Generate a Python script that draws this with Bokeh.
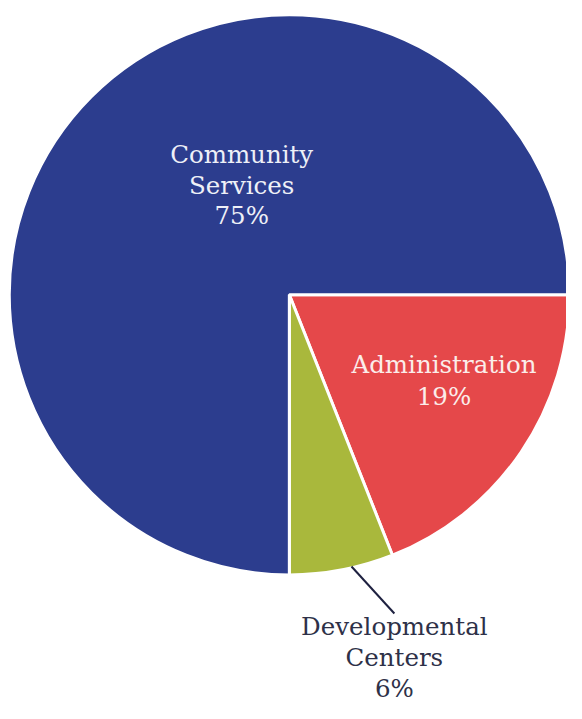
import numpy as np
from bokeh.plotting import figure
from bokeh.models import Range1d, ColumnDataSource
from bokeh.core.properties import value
from bokeh.embed import file_html
from bokeh.resources import INLINE

categories = ["Administration", "Developmental Centers", "Community Services"]
shares = [19, 6, 75]
colors = ["#E5484A", "#A9B83C", "#2C3D8E"]
label_lines = [["Administration", "19%"],
               ["Developmental", "Centers", "6%"],
               ["Community", "Services", "75%"]]
label_colors = ["#FBEDEA", "#2E3148", "#EEF0F7"]

# reference picture is 582 x 719; draw in those units, fit canvas into window
REF_W, REF_H = 582, 719
W, H = 566, 703
cx, cy, R = 297, -301, 288

p = figure(width=W, height=H, output_backend="svg", toolbar_location=None,
           x_range=Range1d(0, REF_W), y_range=Range1d(-REF_H, 0),
           min_border=0, outline_line_color=None)
p.axis.visible = False
p.grid.visible = False
p.background_fill_color = "white"
p.border_fill_color = "white"

vals = np.array(shares, dtype=float)
frac = vals / vals.sum()
ends = -2 * np.pi * np.concatenate([[0], np.cumsum(frac)[:-1]])
starts = -2 * np.pi * np.cumsum(frac)

src = ColumnDataSource(dict(cat=categories, start=starts, end=ends, color=colors))
p.wedge(x=cx, y=cy, radius=R, start_angle="start", end_angle="end",
        direction="anticlock", fill_color="color", line_color="white",
        line_width=3, source=src)

# leader line for Developmental Centers
anchor = starts[1] + 0.6 * (ends[1] - starts[1])
x0 = cx + R * np.cos(anchor) * 0.99
y0 = cy + R * np.sin(anchor) * 0.99
p.segment(x0=[x0], y0=[y0], x1=[405], y1=[-627], line_color="#1E2140", line_width=2)

# labels
centers = [(456, -389), (405, -672), (248, -189)]
spacings = [33, 32, 31]
for lines, (lx, ly), col, sp in zip(label_lines, centers, label_colors, spacings):
    n = len(lines)
    ys = [ly + sp * ((n - 1) / 2 - i) for i in range(n)]
    p.text(x=[lx] * n, y=ys, text=lines, text_color=col,
           text_font=value("DejaVu Serif"), text_font_size="24.5px",
           text_align="center", text_baseline="middle")

open("out.html", "w").write(file_html(p, INLINE))
